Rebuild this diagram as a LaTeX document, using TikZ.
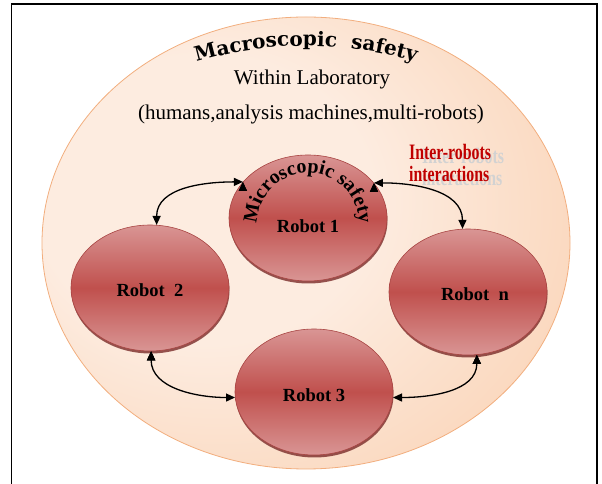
\documentclass[tikz,border=0pt]{standalone}
\usepackage{fontspec}
\setmainfont{Liberation Serif}
\newfontfamily\artfont{DejaVu Serif}
\usetikzlibrary{shapes,arrows.meta,shadows,decorations.text}

\definecolor{peachL}{HTML}{FDECE0}
\definecolor{peachD}{HTML}{F7BF94}
\definecolor{peachB}{HTML}{F2AE7E}
\definecolor{robotL}{HTML}{D99594}
\definecolor{robotM}{HTML}{C0504D}
\definecolor{robotB}{HTML}{A84442}
\definecolor{robotS}{HTML}{7A2B29}
\definecolor{linkred}{HTML}{C00000}
\pgfdeclareradialshading{labshade}{\pgfpoint{-12bp}{6bp}}{color(0bp)=(peachL); color(16bp)=(peachL); color(56bp)=(peachD); color(80bp)=(peachD)}

\begin{document}
\begin{tikzpicture}[x=1pt,y=1pt,
  robot/.style={shape=ellipse,draw=robotB,top color=robotL,bottom color=robotL,middle color=robotM,line width=0.6pt,minimum width=158pt,minimum height=126pt,inner sep=0pt,drop shadow={shadow xshift=0.5pt,shadow yshift=-2.5pt,fill=robotS,opacity=0.8},font=\bfseries\fontsize{18.5}{18.5}\selectfont,text height=18pt,text depth=0pt}]
\useasboundingbox (0,0) rectangle (602,484);
\draw[black,line width=1.5pt] (11.5,0) -- (11.5,480) -- (597,480) -- (597,0);

\node[shape=ellipse,draw=peachB,shading=labshade,line width=0.8pt,minimum width=528pt,minimum height=452pt,inner sep=0pt] (0) at (306,241) {};
\node[robot,text height=30pt] (1) at (308,266) {Robot 1};
\node[robot] (2) at (150,196) {Robot~~2};
\node[robot,text height=20pt] (3) at (314,92) {Robot 3};
\node[robot] (4) at (468,192) {\hspace*{14pt}Robot~~n};

\node[anchor=base,font=\fontsize{21}{21}\selectfont] (5) at (312,399) {Within Laboratory};
\node[anchor=base,font=\fontsize{21}{21}\selectfont] (6) at (311,364) {(humans,analysis machines,multi-robots)};
\node[anchor=base west,align=left,inner sep=0pt,text=gray!35,font=\bfseries\fontsize{22}{22}\selectfont] (7) at (422,298) {\scalebox{0.72}[1]{Inter-robots}\\\scalebox{0.72}[1]{interactions}};
\node[anchor=base west,align=left,inner sep=0pt,text=linkred,font=\bfseries\fontsize{22}{22}\selectfont] (8) at (409,302) {\scalebox{0.72}[1]{Inter-robots}\\\scalebox{0.72}[1]{interactions}};

\coordinate (9) at (306,48);
\coordinate (10) at (308,260);
\path[decorate,decoration={text along path,text align=center,text={|\artfont\bfseries\fontsize{20}{20}\selectfont|Macroscopic {\ }safety}}] (9) ++(112:390) arc[start angle=112,end angle=68,radius=390];
\path[decorate,decoration={text along path,text align=center,text={|\bfseries\fontsize{20}{20}\selectfont|Microscopic safety}}] (10) ++(200:51) arc[start angle=200,end angle=-20,radius=51];

\path [<->,>={Triangle[length=9pt,width=8pt]},draw=black,line width=1.3pt] (1.151) edge[out=180,in=90] node {} (2.84);
\path [<->,>={Triangle[length=9pt,width=8pt]},draw=black,line width=1.3pt] (1.28) edge[out=0,in=90] node {} (4.95);
\path [<->,>={Triangle[length=9pt,width=8pt]},draw=black,line width=1.3pt] (2.-89) edge[out=-90,in=180] node {} (3.184);
\path [<->,>={Triangle[length=9pt,width=8pt]},draw=black,line width=1.3pt] (4.-82) edge[out=-90,in=0] node {} (3.-4);
\end{tikzpicture}
\end{document}
